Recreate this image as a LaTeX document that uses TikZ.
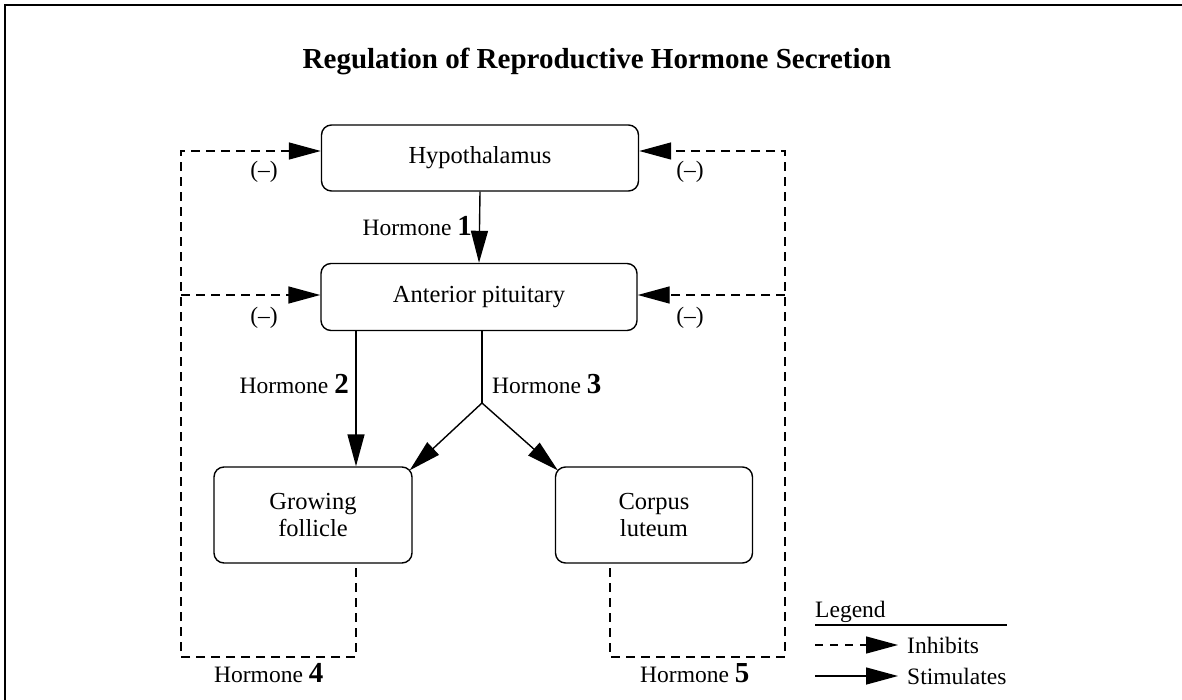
\documentclass[tikz,border=0pt]{standalone}
\usepackage{fontspec}
\setmainfont{Liberation Serif}
\usetikzlibrary{arrows.meta}

\tikzset{
  organ/.style={draw, rounded corners=10pt, line width=1.4pt, align=center,
    inner sep=0pt, font=\fontsize{24.5}{27}\selectfont},
  stim/.style={line width=1.4pt, -{Triangle[length=32pt,width=17pt]}},
  inhib/.style={stim, dash pattern=on 9pt off 6pt},
  lbl/.style={inner sep=0pt, font=\fontsize{23.5}{27}\selectfont},
}
\newcommand{\hnum}[1]{\textbf{\fontsize{29}{29}\selectfont #1}}

\begin{document}
\begin{tikzpicture}[x=1pt,y=-1pt]
  \useasboundingbox (0,0) rectangle (1182,700);
  \draw[line width=2.5pt] (1182,5) -- (5,5) -- (5,700);
  \node[font=\bfseries\fontsize{29}{33}\selectfont] (title) at (597,61)
    {Regulation of Reproductive Hormone Secretion};

  % organs
  \node[organ, minimum width=317pt, minimum height=66pt] (hyp) at (480,158) {Hypothalamus};
  \node[organ, minimum width=316pt, minimum height=67pt] (ant) at (479,297) {Anterior pituitary};
  \node[organ, minimum width=198pt, minimum height=96pt] (fol) at (313,515) {Growing\\follicle};
  \node[organ, minimum width=197pt, minimum height=96pt] (cor) at (654,515) {Corpus\\luteum};

  % stimulating hormones
  \draw[stim] (hyp.south) -- (ant.north);
  \node[lbl, anchor=east] (h1) at (472,226) {Hormone \hnum{1}};
  \coordinate (h2top) at (356,331);
  \draw[stim] (h2top) -- (h2top |- fol.north);
  \node[lbl, anchor=east] (h2) at (349,384) {Hormone \hnum{2}};
  \coordinate (split) at (482,403);
  \draw[line width=1.4pt] (split |- ant.south) -- (split);
  \draw[stim] (split) -- ([shift={(-3,4)}]fol.north east);
  \draw[stim] (split) -- ([shift={(3,4)}]cor.north west);
  \node[lbl, anchor=west] (h3) at (492,384) {Hormone \hnum{3}};

  % feedback loops
  \coordinate (lf) at (356,568);
  \coordinate (lc) at (610,568);
  \coordinate (hy) at (0,151);
  \coordinate (ay) at (0,295);
  \draw[inhib] (lf) -- (356,657) -- (181,657) -- (181,151) -- (hyp.west |- hy);
  \draw[inhib] (181,295) -- (ant.west |- ay);
  \draw[inhib] (lc) -- (610,657) -- (785,657) -- (785,151) -- (hyp.east |- hy);
  \draw[inhib] (785,295) -- (ant.east |- ay);
  \node[lbl] (m1) at (264,172) {(--)};
  \node[lbl] (m2) at (690,172) {(--)};
  \node[lbl] (m3) at (264,318) {(--)};
  \node[lbl] (m4) at (690,318) {(--)};
  \node[lbl, anchor=west] (h4) at (214,673) {Hormone \hnum{4}};
  \node[lbl, anchor=west] (h5) at (640,673) {Hormone \hnum{5}};

  % legend
  \node[lbl, anchor=west] (legend) at (815,612) {Legend};
  \draw[line width=1.4pt] (815,625) -- (1007,625);
  \coordinate (ia) at (815,645);
  \coordinate (sa) at (815,676);
  \draw[inhib, dash pattern=on 8pt off 7pt] (ia) -- ++(83,0) coordinate (ib);
  \node[lbl, anchor=west] (inh) at ([xshift=9pt]ib) {Inhibits};
  \draw[stim] (sa) -- ++(83,0) coordinate (sb);
  \node[lbl, anchor=west] (sti) at ([xshift=9pt]sb) {Stimulates};
\end{tikzpicture}
\end{document}
